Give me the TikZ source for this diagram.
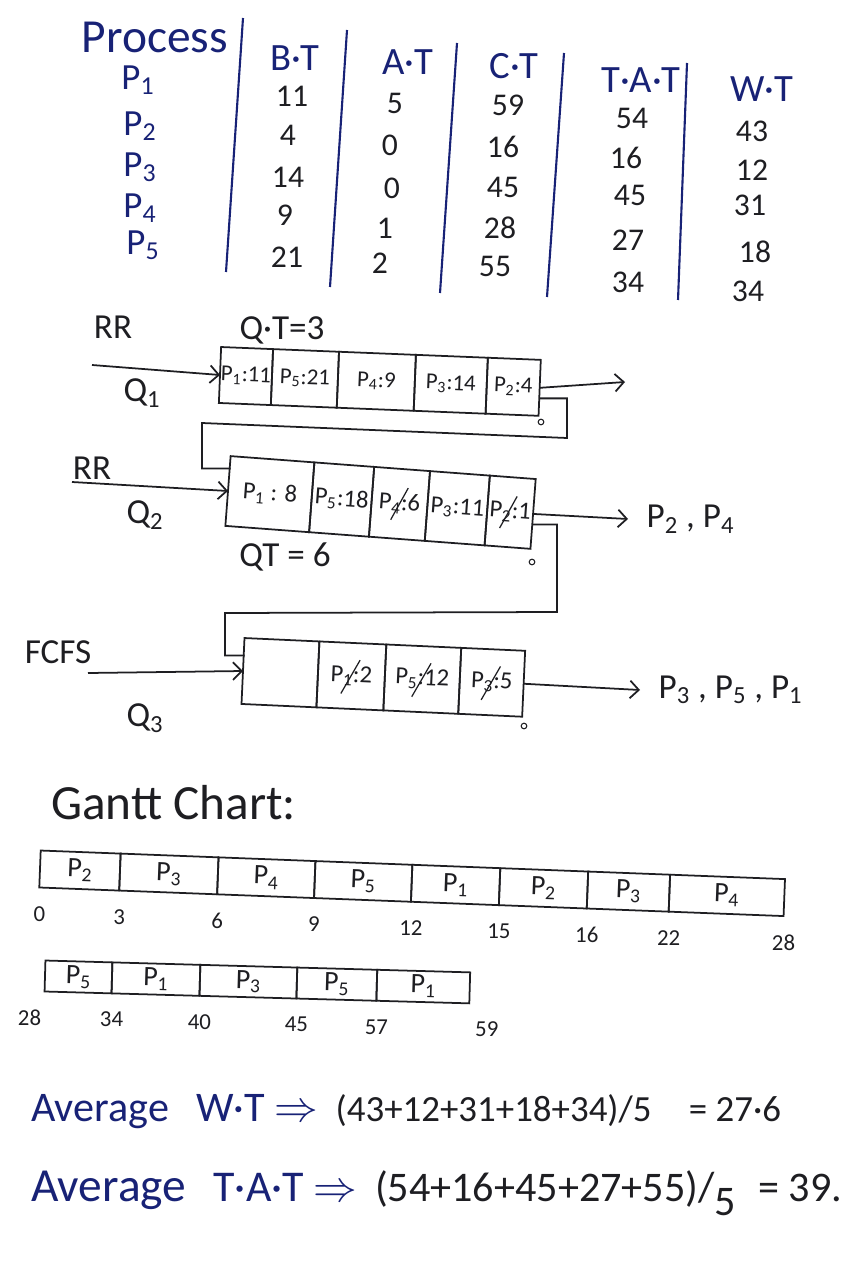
\documentclass[tikz,border=0pt]{standalone}
\usepackage{fontspec}
\setmainfont{Carlito}
\usepackage{tikz}
\usetikzlibrary{arrows.meta,positioning,calc}
\definecolor{ink}{RGB}{24,34,118}
\definecolor{pen}{RGB}{30,30,34}
\newcommand{\Pn}[1]{P\textsubscript{#1}}

\begin{document}
\begin{tikzpicture}[x=0.02cm, y=-0.02cm, >={Straight Barb[length=5pt,width=10pt]}]
        \tikzset{
            head/.style={text=ink, font=\fontsize{22}{24}\selectfont},
            proc/.style={text=ink, font=\fontsize{21}{23}\selectfont},
            num/.style={text=pen, font=\fontsize{18}{20}\selectfont},
            lab/.style={text=pen, font=\fontsize{20}{22}\selectfont},
            rule/.style={draw=ink, line width=1.2pt},
            wire/.style={draw=pen, line width=1pt},
            qcell/.style={draw=pen, line width=1pt, inner sep=0pt, outer sep=0pt, text=pen, font=\fontsize{14}{16}\selectfont},
            q1cell/.style={qcell, rotate=-2.3, minimum height=1.12cm, font=\fontsize{13}{15}\selectfont},
            q2cell/.style={qcell, rotate=-4.3, minimum height=1.4cm},
            q3cell/.style={qcell, rotate=-2.6, minimum height=1.32cm},
            g1cell/.style={qcell, rotate=-2.2, minimum height=0.74cm, font=\fontsize{16}{18}\selectfont},
            g2cell/.style={qcell, rotate=-1.6, minimum height=0.62cm, font=\fontsize{16}{18}\selectfont},
            tick/.style={text=pen, font=\fontsize{13}{15}\selectfont, below=0.25cm of #1},
            strike/.style={draw=pen, line width=0.7pt},
            avg/.style={text=ink, font=\fontsize{24}{26}\selectfont},
            expr/.style={text=pen, font=\fontsize{21}{23}\selectfont}
        }
        \useasboundingbox (0,0) rectangle (858,1280);

        % Table
        \node [head, font=\fontsize{27}{29}\selectfont] (hproc) at (155,37) {Process};
        \node [head] (hbt) at (295,58) {B·T};
        \node [head] (hat) at (408,62) {A·T};
        \node [head] (hct) at (514,66) {C·T};
        \node [head] (htat) at (641,80) {T·A·T};
        \node [head] (hwt) at (762,89) {W·T};

        \node [proc] (p1) at (138,80) {\Pn{1}};
        \node [proc] (p2) at (140,126) {\Pn{2}};
        \node [proc] (p3) at (140,167) {\Pn{3}};
        \node [proc] (p4) at (140,208) {\Pn{4}};
        \node [proc] (p5) at (143,245) {\Pn{5}};

        \node [num] (bt1) at (292,96) {11};
        \node [num] (bt2) at (288,135) {4};
        \node [num] (bt3) at (288,177) {14};
        \node [num] (bt4) at (285,215) {9};
        \node [num] (bt5) at (287,257) {21};

        \node [num] (at1) at (395,103) {5};
        \node [num] (at2) at (390,145) {0};
        \node [num] (at3) at (392,188) {0};
        \node [num] (at4) at (385,228) {1};
        \node [num] (at5) at (380,263) {2};

        \node [num] (ct1) at (508,105) {59};
        \node [num] (ct2) at (503,147) {16};
        \node [num] (ct3) at (503,187) {45};
        \node [num] (ct4) at (500,228) {28};
        \node [num] (ct5) at (495,266) {55};

        \node [num] (tat1) at (632,118) {54};
        \node [num] (tat2) at (626,158) {16};
        \node [num] (tat3) at (630,195) {45};
        \node [num] (tat4) at (628,240) {27};
        \node [num] (tat5) at (628,282) {34};

        \node [num] (wt1) at (752,131) {43};
        \node [num] (wt2) at (752,170) {12};
        \node [num] (wt3) at (750,205) {31};
        \node [num] (wt4) at (755,252) {18};
        \node [num] (wt5) at (748,291) {34};

        \draw [rule] (243,18) -- (226,272);
        \draw [rule] (347,30) -- (330,287);
        \draw [rule] (457,43) -- (440,293);
        \draw [rule] (564,53) -- (547,297);
        \draw [rule] (687,63) -- (678,300);

        % Queue 1
        \node [lab] (rr1) at (113,327) {RR};
        \node [lab] (qt1) at (282,330) {Q·T=3};
        \node [q1cell, minimum width=1.04cm, anchor=west] (q1a) at (220,375) {\Pn{1}:11};
        \node [q1cell, minimum width=1.32cm, right=0pt of q1a] (q1b) {\Pn{5}:21};
        \node [q1cell, minimum width=1.54cm, right=0pt of q1b] (q1c) {\Pn{4}:9};
        \node [q1cell, minimum width=1.44cm, right=0pt of q1c] (q1d) {\Pn{3}:14};
        \node [q1cell, minimum width=1.06cm, right=0pt of q1d] (q1e) {\Pn{2}:4};
        \node [lab] (q1name) at (142,393) {Q\textsubscript{1}};
        \coordinate (q1in) at (92,365);
        \coordinate (q1out) at (625,382);
        \draw [wire, ->] (q1in) -- (q1a.west);
        \draw [wire, ->] (q1e.east) -- (q1out);
        \draw [wire, line width=0.6pt] (541,422) circle (1.6pt);

        % Queue 2
        \node [lab] (rr2) at (92,468) {RR};
        \node [q2cell, minimum width=1.68cm, anchor=west] (q2a) at (228,491) {\Pn{1} : 8};
        \node [q2cell, minimum width=1.2cm, right=0pt of q2a] (q2b) {\Pn{5}:18};
        \node [q2cell, minimum width=1.12cm, right=0pt of q2b] (q2c) {\Pn{4}:6};
        \node [q2cell, minimum width=1.2cm, right=0pt of q2c] (q2d) {\Pn{3}:11};
        \node [q2cell, minimum width=0.92cm, right=0pt of q2d] (q2e) {\Pn{2}:1};
        \draw [strike] ($(q2c.center)+(-5pt,-9pt)$) -- ($(q2c.center)+(5pt,9pt)$);
        \draw [strike] ($(q2e.center)+(-6pt,-9pt)$) -- ($(q2e.center)+(4pt,9pt)$);
        \node [lab] (q2name) at (145,515) {Q\textsubscript{2}};
        \node [lab] (qt2) at (285,557) {QT = 6};
        \coordinate (q2in) at (72,482);
        \coordinate (q2out) at (628,519);
        \draw [wire, ->] (q2in) -- (q2a.west);
        \draw [wire, ->] (q2e.east) -- (q2out);
        \node [lab, right=0.25cm of q2out] (done2) {\Pn{2} , \Pn{4}};
        \draw [wire, line width=0.6pt] (532,562) circle (1.6pt);

        % Q1 -> Q2
        \coordinate (fb1a) at (567,438);
        \coordinate (fb1b) at (202,423);
        \draw [wire] ([yshift=-6pt]q1e.east) -| (fb1a) -- (fb1b) |- ([yshift=-7pt]q2a.north west);

        % Queue 3
        \node [lab] (fcfs) at (58,652) {FCFS};
        \node [q3cell, minimum width=1.5cm, anchor=west] (q3a) at (243,671) {};
        \node [q3cell, minimum width=1.34cm, right=0pt of q3a] (q3b) {\Pn{1}:2};
        \node [q3cell, minimum width=1.5cm, right=0pt of q3b] (q3c) {\Pn{5}:12};
        \node [q3cell, minimum width=1.28cm, right=0pt of q3c] (q3d) {\Pn{3}:5};
        \draw [strike] ($(q3b.center)+(-6pt,-10pt)$) -- ($(q3b.center)+(5pt,9pt)$);
        \draw [strike] ($(q3c.center)+(-6pt,-10pt)$) -- ($(q3c.center)+(5pt,9pt)$);
        \draw [strike] ($(q3d.center)+(-6pt,-10pt)$) -- ($(q3d.center)+(5pt,9pt)$);
        \node [lab] (q3name) at (145,718) {Q\textsubscript{3}};
        \coordinate (q3in) at (88,673);
        \coordinate (q3out) at (640,690);
        \draw [wire, ->] (q3in) -- (q3a.west);
        \draw [wire, ->] (q3d.east) -- (q3out);
        \node [lab, right=0.25cm of q3out] (done3) {\Pn{3} , \Pn{5} , \Pn{1}};
        \draw [wire, line width=0.6pt] (524,726) circle (1.6pt);

        % Q2 -> Q3
        \coordinate (fb2a) at (557,612);
        \coordinate (fb2b) at (225,613);
        \draw [wire] ([yshift=-6pt]q2e.east) -| (fb2a) -- (fb2b) |- ([yshift=-10pt]q3a.north west);

        % Gantt chart
        \node [head, text=pen, font=\fontsize{28}{30}\selectfont, anchor=west] (gtitle) at (45,803) {Gantt Chart:};

        \node [g1cell, minimum width=1.6cm, anchor=west] (g1a) at (40,869) {\Pn{2}};
        \node [g1cell, minimum width=1.96cm, right=0pt of g1a] (g1b) {\Pn{3}};
        \node [g1cell, minimum width=1.94cm, right=0pt of g1b] (g1c) {\Pn{4}};
        \node [g1cell, minimum width=1.94cm, right=0pt of g1c] (g1d) {\Pn{5}};
        \node [g1cell, minimum width=1.76cm, right=0pt of g1d] (g1e) {\Pn{1}};
        \node [g1cell, minimum width=1.76cm, right=0pt of g1e] (g1f) {\Pn{2}};
        \node [g1cell, minimum width=1.64cm, right=0pt of g1f] (g1g) {\Pn{3}};
        \node [g1cell, minimum width=2.3cm, right=0pt of g1g] (g1h) {\Pn{4}};

        \node [tick=g1a.south west] (t0) {0};
        \node [tick=g1a.south east] (t3) {3};
        \node [tick=g1b.south east] (t6) {6};
        \node [tick=g1c.south east] (t9) {9};
        \node [tick=g1d.south east] (t12) {12};
        \node [tick=g1e.south east] (t15) {15};
        \node [tick=g1f.south east] (t16) {16};
        \node [tick=g1g.south east] (t22) {22};
        \node [tick=g1h.south east] (t28) {28};

        \node [g2cell, minimum width=1.34cm, anchor=west] (g2a) at (45,976) {\Pn{5}};
        \node [g2cell, minimum width=1.76cm, right=0pt of g2a] (g2b) {\Pn{1}};
        \node [g2cell, minimum width=1.94cm, right=0pt of g2b] (g2c) {\Pn{3}};
        \node [g2cell, minimum width=1.6cm, right=0pt of g2c] (g2d) {\Pn{5}};
        \node [g2cell, minimum width=1.86cm, right=0pt of g2d] (g2e) {\Pn{1}};

        \node [tick=g2a.south west, xshift=-0.3cm] (u28) {28};
        \node [tick=g2a.south east] (u34) {34};
        \node [tick=g2b.south east] (u40) {40};
        \node [tick=g2c.south east] (u45) {45};
        \node [tick=g2d.south east] (u57) {57};
        \node [tick=g2e.south east, xshift=0.35cm] (u59) {59};

        % Averages
        \node [avg, anchor=west] (avgw) at (25,1112) {Average};
        \node [avg, anchor=base west] (avgwl) at ([xshift=0.3cm]avgw.base east) {W·T $\Rightarrow$};
        \node [expr, anchor=base west] (avgws) at ([xshift=0.1cm]avgwl.base east) {(43+12+31+18+34)/5};
        \node [expr, anchor=base west] (avgwr) at ([xshift=0.5cm]avgws.base east) {= 27·6};

        \node [avg, font=\fontsize{27}{29}\selectfont, anchor=west] (avgt) at (25,1190) {Average};
        \node [avg, font=\fontsize{25}{27}\selectfont, anchor=base west] (avgtl) at ([xshift=0.3cm]avgt.base east) {T·A·T $\Rightarrow$};
        \node [expr, font=\fontsize{24}{26}\selectfont, anchor=base west] (avgts) at ([xshift=0.1cm]avgtl.base east) {(54+16+45+27+55)/\raisebox{-0.35em}{5}};
        \node [expr, font=\fontsize{24}{26}\selectfont, anchor=base west] (avgtr) at ([xshift=0.2cm]avgts.base east) {= 39.};
    \end{tikzpicture}
\end{document}
